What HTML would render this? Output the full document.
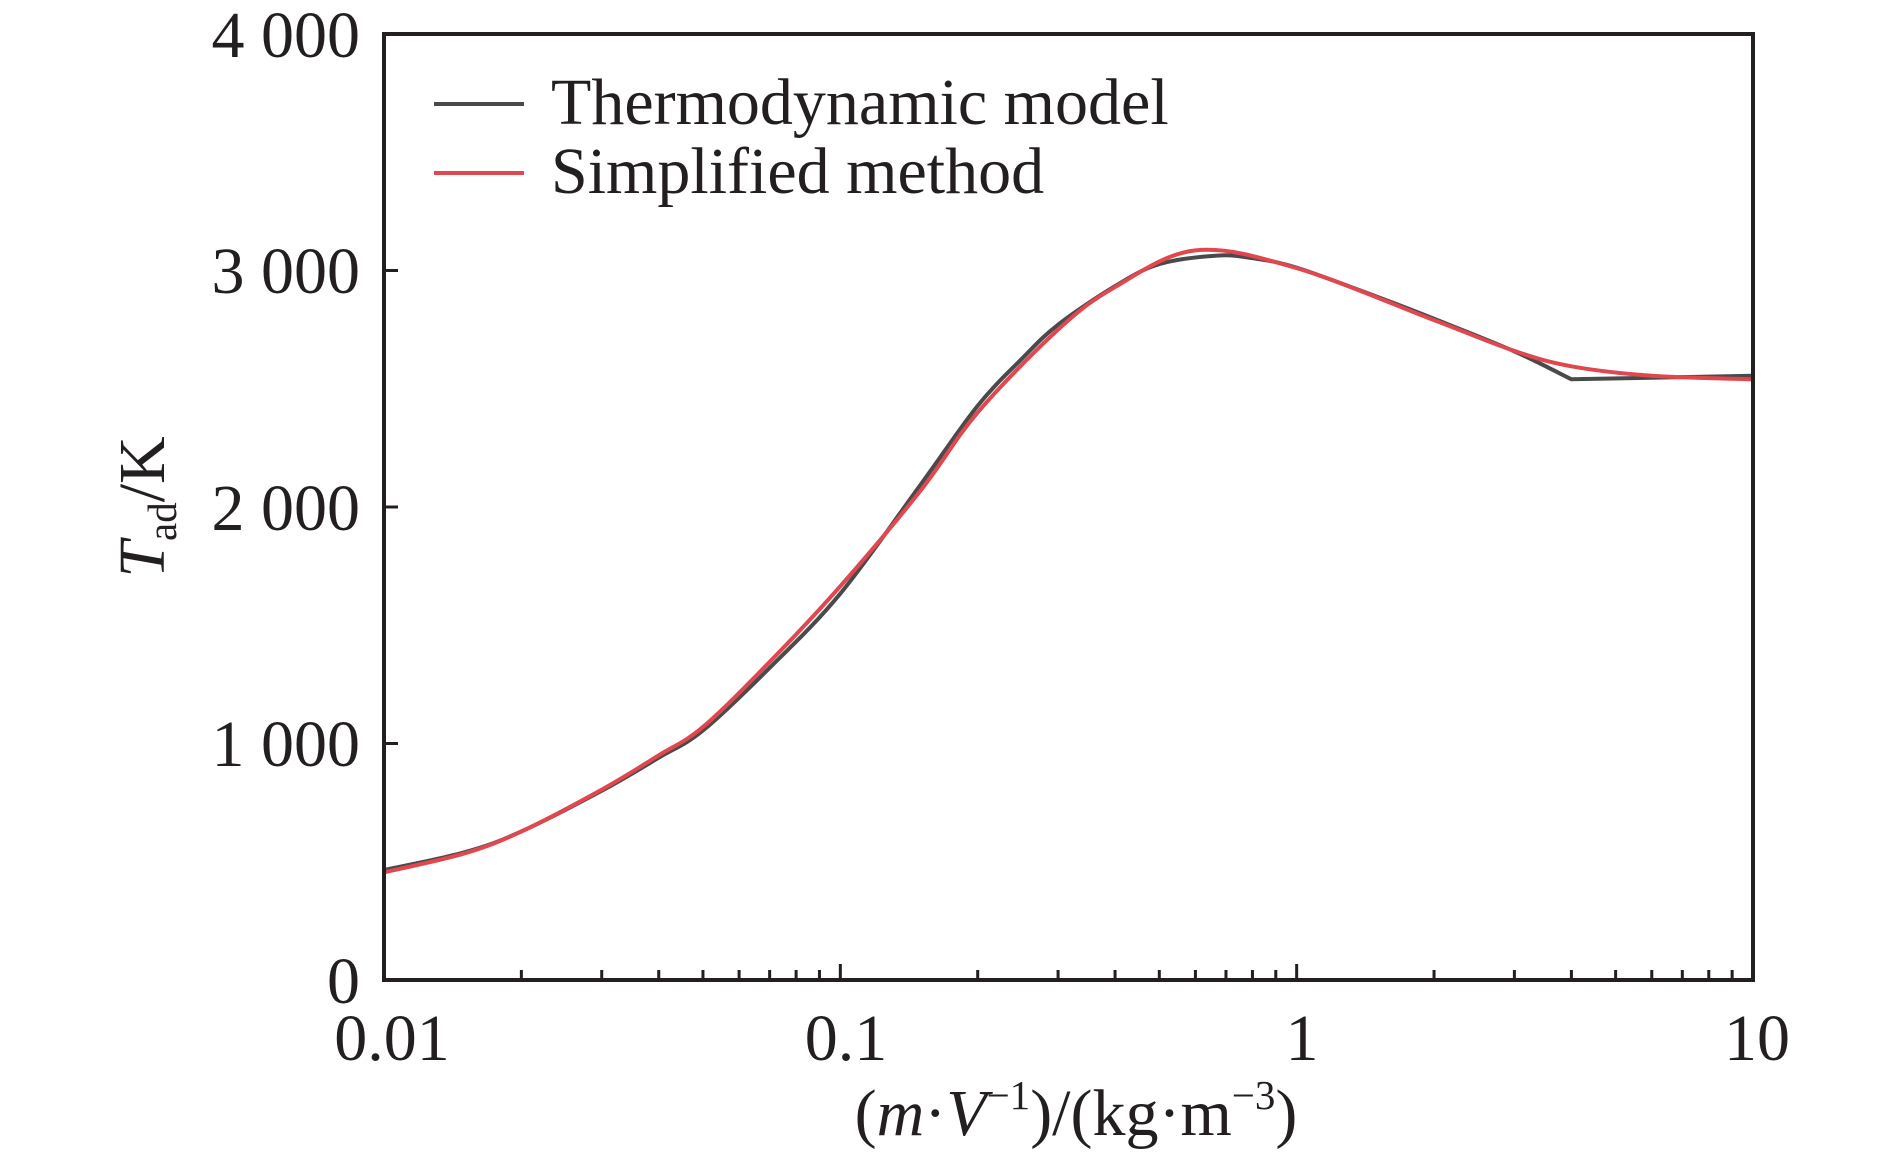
<!DOCTYPE html>
<html><head><meta charset="utf-8"><style>
html,body{margin:0;padding:0;background:#fff}
svg{display:block}
text{font-family:"Liberation Serif","Times New Roman",serif;fill:#231f20}
</style></head><body>
<svg id="s" width="1890" height="1160" viewBox="0 0 1890 1160" xmlns="http://www.w3.org/2000/svg">
<g id="curves"></g>
<rect x="384" y="34" width="1369" height="946" fill="none" stroke="#231f20" stroke-width="4"/>
<g id="ticks" stroke="#231f20" stroke-width="3"></g>
<g font-size="66" text-anchor="end">
<text x="360" y="1003">0</text>
<text x="360" y="766">1 000</text>
<text x="360" y="530">2 000</text>
<text x="360" y="293">3 000</text>
<text x="360" y="57">4 000</text>
</g>
<g font-size="66" text-anchor="middle">
<text x="392" y="1060">0.01</text>
<text x="846" y="1060">0.1</text>
<text x="1302" y="1060">1</text>
<text x="1757" y="1060">10</text>
</g>
<text x="1076" y="1135" font-size="66" text-anchor="middle">(<tspan font-style="italic">m</tspan>·<tspan font-style="italic">V</tspan><tspan font-size="41" dy="-26">−1</tspan><tspan dy="26">)/(kg·m</tspan><tspan font-size="41" dy="-26">−3</tspan><tspan dy="26">)</tspan></text>
<text transform="translate(164,507) rotate(-90)" font-size="66" text-anchor="middle"><tspan font-style="italic">T</tspan><tspan font-size="41" dy="12">ad</tspan><tspan dy="-12">/K</tspan></text>
<line x1="434" y1="104" x2="524" y2="104" stroke="#4a4a4a" stroke-width="4"/>
<line x1="434" y1="173" x2="524" y2="173" stroke="#e0474f" stroke-width="4"/>
<text x="551" y="124" font-size="66">Thermodynamic model</text>
<text x="551" y="193" font-size="66">Simplified method</text>
</svg>
<script>
var L=384,R=1753,B=980,T=34,dec=(R-L)/3;
function X(v){return L+(Math.log10(v)+2)*dec}
function Y(t){return B-(t/4000)*(B-T)}
var tk=document.getElementById('ticks'),h='';
for(var d=-2;d<1;d++){for(var k=1;k<10;k++){var v=k*Math.pow(10,d);var x=X(v);var len=(k==1)?16:10;if(k==1&&d==-2)continue;h+='<line x1="'+x+'" y1="'+B+'" x2="'+x+'" y2="'+(B-len)+'"/>';}}
for(var j=1;j<4;j++){var y=Y(j*1000);h+='<line x1="'+L+'" y1="'+y+'" x2="'+(L+14)+'" y2="'+y+'"/>';}
tk.innerHTML=h;
var blk=[[0.01,465],[0.015,540],[0.02,628],[0.03,800],[0.04,940],[0.05,1055],[0.07,1320],[0.1,1634],[0.15,2095],[0.2,2428],[0.25,2627],[0.3,2771],[0.4,2934],[0.5,3027],[0.67,3063],[0.8,3052],[1,3012],[1.5,2889],[2,2796],[3,2658],[4,2540],[10,2555]];
var red=[[0.01,455],[0.015,535],[0.02,628],[0.03,805],[0.04,950],[0.05,1070],[0.07,1345],[0.1,1665],[0.15,2070],[0.2,2400],[0.3,2750],[0.4,2930],[0.6,3085],[1,3010],[2,2790],[3,2660],[4,2595],[6,2555],[10,2540]];
function path(p,sharp){var pts=p.map(function(a){return[X(a[0]),Y(a[1])]});var s='M'+pts[0][0]+','+pts[0][1];
for(var i=0;i<pts.length-1;i++){var p0=pts[Math.max(i-1,0)],p1=pts[i],p2=pts[i+1],p3=pts[Math.min(i+2,pts.length-1)];
if(sharp&&(i>=pts.length-2)){s+=' L'+p2[0]+','+p2[1];continue;}
if(sharp&&i==pts.length-3){p3=p2;}
var c1x=p1[0]+(p2[0]-p0[0])/6,c1y=p1[1]+(p2[1]-p0[1])/6,c2x=p2[0]-(p3[0]-p1[0])/6,c2y=p2[1]-(p3[1]-p1[1])/6;
s+=' C'+c1x+','+c1y+' '+c2x+','+c2y+' '+p2[0]+','+p2[1];}return s;}
document.getElementById('curves').innerHTML='<path d="'+path(blk,true)+'" fill="none" stroke="#4a4a4a" stroke-width="4"/><path d="'+path(red,false)+'" fill="none" stroke="#e0474f" stroke-width="4"/>';
</script>
</body></html>
